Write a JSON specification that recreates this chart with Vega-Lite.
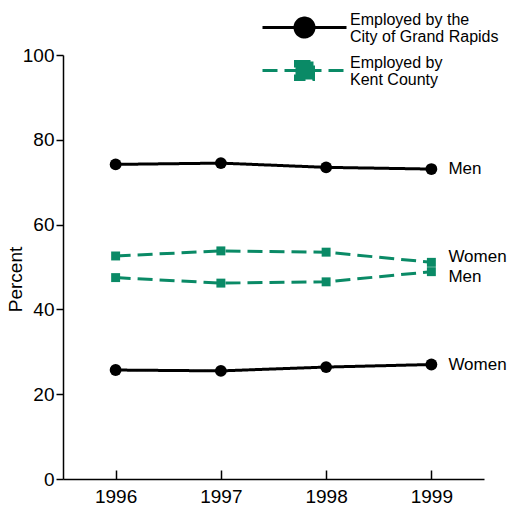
{
  "$schema": "https://vega.github.io/schema/vega-lite/v6.json",
  "width": 421,
  "height": 424,
  "autosize": {"type": "none"},
  "padding": {"left": 63, "top": 55, "right": 24, "bottom": 26},
  "background": "white",
  "config": {
    "view": {"stroke": null},
    "font": "Liberation Sans",
    "axis": {"labelFont": "Liberation Sans", "titleFont": "Liberation Sans", "labelColor": "#000", "titleColor": "#000", "domainColor": "#000", "tickColor": "#000", "domainWidth": 1.5, "tickWidth": 1.5, "grid": false}
  },
  "data": {
    "values": [
      {"year": 1996, "employer": "City", "sex": "Men", "percent": 74.2},
      {"year": 1997, "employer": "City", "sex": "Men", "percent": 74.5},
      {"year": 1998, "employer": "City", "sex": "Men", "percent": 73.5},
      {"year": 1999, "employer": "City", "sex": "Men", "percent": 73.1},
      {"year": 1996, "employer": "City", "sex": "Women", "percent": 25.7},
      {"year": 1997, "employer": "City", "sex": "Women", "percent": 25.5},
      {"year": 1998, "employer": "City", "sex": "Women", "percent": 26.4},
      {"year": 1999, "employer": "City", "sex": "Women", "percent": 27.0},
      {"year": 1996, "employer": "Kent", "sex": "Women", "percent": 52.6},
      {"year": 1997, "employer": "Kent", "sex": "Women", "percent": 53.8},
      {"year": 1998, "employer": "Kent", "sex": "Women", "percent": 53.5},
      {"year": 1999, "employer": "Kent", "sex": "Women", "percent": 51.1},
      {"year": 1996, "employer": "Kent", "sex": "Men", "percent": 47.5},
      {"year": 1997, "employer": "Kent", "sex": "Men", "percent": 46.2},
      {"year": 1998, "employer": "Kent", "sex": "Men", "percent": 46.5},
      {"year": 1999, "employer": "Kent", "sex": "Men", "percent": 48.9}
    ]
  },
  "encoding": {
    "x": {"field": "year", "type": "quantitative", "scale": {"domain": [1995.5, 1999.5], "nice": false, "zero": false},
      "axis": {"values": [1996, 1997, 1998, 1999], "format": "d", "title": null, "labelFontSize": 19, "tickSize": -9, "labelPadding": 17, "labelFlush": false}},
    "y": {"field": "percent", "type": "quantitative", "scale": {"domain": [0, 100], "nice": false},
      "axis": {"values": [0, 20, 40, 60, 80, 100], "title": "Percent", "titleFontSize": 19, "titleFontWeight": "normal", "labelFontSize": 19, "tickSize": 7, "labelPadding": 2, "titleX": -38, "titleY": 224, "labelFlush": false}}
  },
  "layer": [
    {
      "mark": {"type": "line", "strokeWidth": 3},
      "encoding": {
        "detail": {"field": "sex"},
        "color": {"field": "employer", "type": "nominal",
          "scale": {"domain": ["City", "Kent"], "range": ["#000000", "#0a8a66"]},
          "legend": {
            "orient": "none", "legendX": 230, "legendY": -39, "title": null, "padding": 0,
            "symbolType": "M-1,0H1", "symbolSize": 400, "symbolStrokeWidth": 3,
            "labelFontSize": 16, "labelFont": "Liberation Sans", "labelColor": "#000", "labelOffset": 34, "labelLimit": 0,
            "rowPadding": 9,
            "labelExpr": "datum.value === 'City' ? ['Employed by the', 'City of Grand Rapids'] : ['Employed by', 'Kent County']",
            "encode": {
              "symbols": {"update": {
                "shape": {"signal": "datum.value === 'City' ? 'M-4.2,0H4.2M0.95,0A0.95,0.95,0,1,1,-0.95,0A0.95,0.95,0,1,1,0.95,0Z' : 'M-4.2,0H4.2M-0.9,-0.9H0.9V0.9H-0.9Z'"},
                "fill": {"signal": "scale('color', datum.value)"},
                "stroke": {"signal": "scale('color', datum.value)"},
                "strokeDash": {"signal": "datum.value === 'City' ? [1, 0] : [17, 5]"}
              }},
              "labels": {"update": {"lineHeight": {"value": 17}, "dy": {"value": -8}}}
            }
          }},
        "strokeDash": {"field": "employer", "type": "nominal", "scale": {"domain": ["City", "Kent"], "range": [[1, 0], [15, 7]]}, "legend": null}
      }
    },
    {
      "transform": [{"filter": "datum.employer === 'City'"}],
      "mark": {"type": "point", "shape": "circle", "filled": true, "size": 140, "opacity": 1},
      "encoding": {"color": {"field": "employer", "type": "nominal", "legend": null}}
    },
    {
      "transform": [{"filter": "datum.employer === 'Kent'"}],
      "mark": {"type": "point", "shape": "square", "filled": true, "size": 80, "opacity": 1},
      "encoding": {"color": {"field": "employer", "type": "nominal", "legend": null}}
    },
    {
      "transform": [{"filter": "datum.employer === 'City' && datum.year === 1999"}],
      "mark": {"type": "text", "align": "left", "baseline": "middle", "dx": 17, "fontSize": 17, "color": "#000"},
      "encoding": {"text": {"field": "sex"}}
    },
    {
      "transform": [{"filter": "datum.employer === 'Kent' && datum.year === 1999 && datum.sex === 'Women'"}],
      "mark": {"type": "text", "align": "left", "baseline": "middle", "dx": 17, "dy": -5, "fontSize": 17, "color": "#000"},
      "encoding": {"text": {"field": "sex"}}
    },
    {
      "transform": [{"filter": "datum.employer === 'Kent' && datum.year === 1999 && datum.sex === 'Men'"}],
      "mark": {"type": "text", "align": "left", "baseline": "middle", "dx": 17, "dy": 5, "fontSize": 17, "color": "#000"},
      "encoding": {"text": {"field": "sex"}}
    }
  ]
}
